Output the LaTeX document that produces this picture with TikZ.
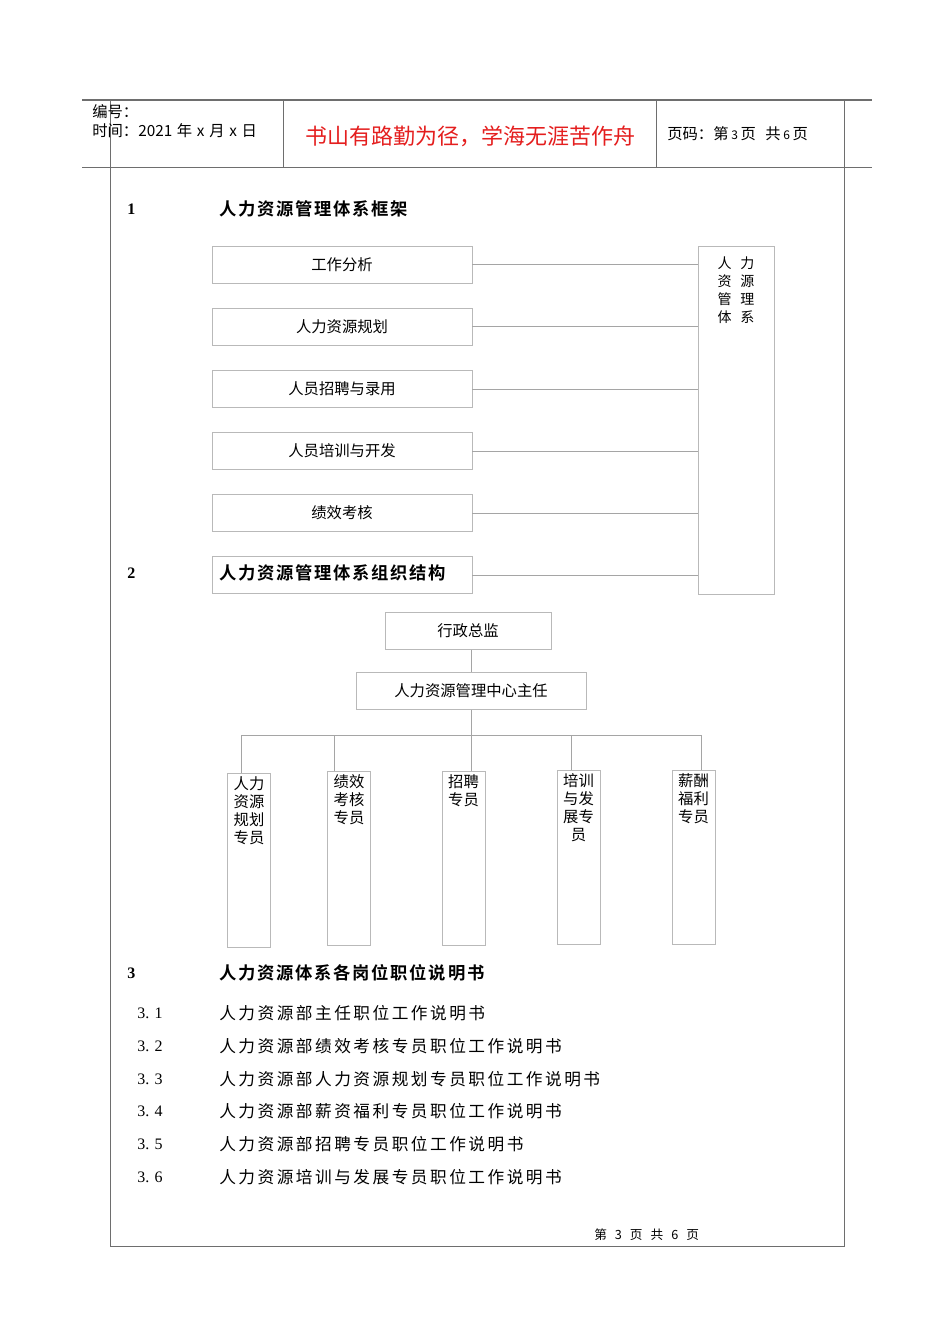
\documentclass[tikz,border=0pt]{standalone}
\usepackage{fontspec}
\usepackage{xcolor}
\usetikzlibrary{positioning}
\newfontfamily\cjk{Noto Sans CJK SC}
\newfontfamily\cjkbold{Noto Sans CJK SC Bold}
\newfontfamily\cjkwide[LetterSpace=15]{Noto Sans CJK SC}
\newfontfamily\cjkboldwide[LetterSpace=10]{Noto Sans CJK SC Bold}
\newfontfamily\numfont{Liberation Serif}
\definecolor{boxgray}{RGB}{185,185,185}
\definecolor{linegray}{RGB}{165,165,165}
\definecolor{rulegray}{RGB}{110,110,110}
\definecolor{mottored}{RGB}{228,30,30}

\begin{document}
\begin{tikzpicture}[
  x=0.75pt, y=-0.75pt,
  txt/.style={inner sep=0pt, anchor=west},
  hdr/.style={txt, font=\cjk\fontsize{11.5}{12}\selectfont},
  head/.style={txt, font=\cjkboldwide\fontsize{13}{14}\selectfont},
  secnum/.style={txt, font=\numfont\bfseries\fontsize{12}{14}\selectfont},
  itemnum/.style={txt, font=\numfont\fontsize{12}{14}\selectfont},
  item/.style={txt, font=\cjkwide\fontsize{12.5}{14}\selectfont},
  box/.style={draw=boxgray, inner sep=0pt, minimum width=195pt, minimum height=28pt, font=\cjk\fontsize{11.5}{13}\selectfont},
  tallbox/.style={draw=boxgray, inner sep=0pt, minimum width=32pt, minimum height=130.5pt},
  talltxt/.style={inner sep=0pt, anchor=north, align=center, font=\cjk\fontsize{11.5}{13.5}\selectfont},
  link/.style={draw=linegray, line width=0.5pt}
]
\useasboundingbox (0,0) rectangle (950,1344);

% page frame and header
\draw[rulegray, line width=1pt] (82,100) -- (872,100);
\draw[rulegray, line width=0.6pt] (82,167) -- (872,167);
\draw[rulegray, line width=0.6pt] (110,100) -- (110,1246) -- (844,1246) -- (844,100);
\draw[rulegray, line width=0.6pt] (283,100) -- (283,167);
\draw[rulegray, line width=0.6pt] (656,100) -- (656,167);
\node[hdr] (num) at (92,112) {编号：};
\node[hdr] (date) at (92,131) {时间：2021\hspace{3.5pt}年\hspace{3.5pt}x\hspace{3.5pt}月\hspace{3.5pt}x\hspace{3.5pt}日};
\node[inner sep=0pt, text=mottored, font=\cjk\fontsize{16.5}{18}\selectfont] (motto) at (470,136) {书山有路勤为径，学海无涯苦作舟};
\node[hdr] (pg) at (667,134) {页码：第\hspace{2pt}{\fontsize{9}{8}\selectfont 3}\hspace{2pt}页\hspace{7pt}共\hspace{2pt}{\fontsize{9}{8}\selectfont 6}\hspace{2pt}页};

% section 1
\node[secnum] (n1) at (127,209) {1};
\node[head] (h1) at (219,209) {人力资源管理体系框架};
\node[box] (w1) at (342,264.5) {工作分析};
\node[box] (w2) at (342,326.5) {人力资源规划};
\node[box] (w3) at (342,389) {人员招聘与录用};
\node[box] (w4) at (342,451) {人员培训与开发};
\node[box] (w5) at (342,513) {绩效考核};
\node[box] (w6) at (342,575) {};
\node[draw=boxgray, inner sep=0pt, minimum width=57pt, minimum height=261pt] (sys) at (736,420) {};
\node[talltxt, font=\cjk\fontsize{10.5}{13.5}\selectfont] (systxt) at ([yshift=-8pt]sys.north)
  {人\hspace{6.5pt}力\\资\hspace{6.5pt}源\\管\hspace{6.5pt}理\\体\hspace{6.5pt}系};
\foreach \w in {w1,w2,w3,w4,w5,w6}
  \draw[link] (\w.east) -- (\w.east -| sys.west);

% section 2
\node[secnum] (n2) at (127,573) {2};
\node[head] (h2) at (219,573) {人力资源管理体系组织结构};
\node[box, minimum width=124.5pt] (zj) at (468,631) {行政总监};
\node[box, minimum width=172.5pt] (zr) at (471,691) {人力资源管理中心主任};
\draw[link] (zr.north |- zj.south) -- (zr.north);
\coordinate (bus) at (471,735);
\coordinate (d1) at (241,735);
\coordinate (d2) at (334,735);
\coordinate (d3) at (471,735);
\coordinate (d4) at (571,735);
\coordinate (d5) at (701,735);
\node[tallbox] (p1) at (249,860) {};
\node[tallbox] (p2) at (349,858) {};
\node[tallbox] (p3) at (463.5,858) {};
\node[tallbox] (p4) at (578.5,857) {};
\node[tallbox] (p5) at (693.5,857) {};
\node[talltxt] (t1) at ([yshift=-2.5pt]p1.north) {人力\\资源\\规划\\专员};
\node[talltxt] (t2) at ([yshift=-2.5pt]p2.north) {绩效\\考核\\专员};
\node[talltxt] (t3) at ([yshift=-2.5pt]p3.north) {招聘\\专员};
\node[talltxt] (t4) at ([yshift=-2.5pt]p4.north) {培训\\与发\\展专\\员};
\node[talltxt] (t5) at ([yshift=-2.5pt]p5.north) {薪酬\\福利\\专员};
\draw[link] (zr.south) -- (bus);
\draw[link] (d1) -- (d5);
\foreach \i in {1,...,5}
  \draw[link] (d\i) -- (d\i |- p\i.north);

% section 3
\node[secnum] (n3) at (127,973) {3};
\node[head] (h3) at (219,973) {人力资源体系各岗位职位说明书};
\node[itemnum] (i1) at (137,1013) {3.\hspace{4pt}1};
\node[item] (j1) at (219,1013) {人力资源部主任职位工作说明书};
\node[itemnum] (i2) at (137,1046) {3.\hspace{4pt}2};
\node[item] (j2) at (219,1046) {人力资源部绩效考核专员职位工作说明书};
\node[itemnum] (i3) at (137,1079) {3.\hspace{4pt}3};
\node[item] (j3) at (219,1079) {人力资源部人力资源规划专员职位工作说明书};
\node[itemnum] (i4) at (137,1111) {3.\hspace{4pt}4};
\node[item] (j4) at (219,1111) {人力资源部薪资福利专员职位工作说明书};
\node[itemnum] (i5) at (137,1144) {3.\hspace{4pt}5};
\node[item] (j5) at (219,1144) {人力资源部招聘专员职位工作说明书};
\node[itemnum] (i6) at (137,1177) {3.\hspace{4pt}6};
\node[item] (j6) at (219,1177) {人力资源培训与发展专员职位工作说明书};

% footer
\node[hdr, font=\cjk\fontsize{9.5}{11}\selectfont] (foot) at (594,1235) {第\hspace{6pt}3\hspace{6pt}页\hspace{6pt}共\hspace{6pt}6\hspace{6pt}页};
\end{tikzpicture}
\end{document}
